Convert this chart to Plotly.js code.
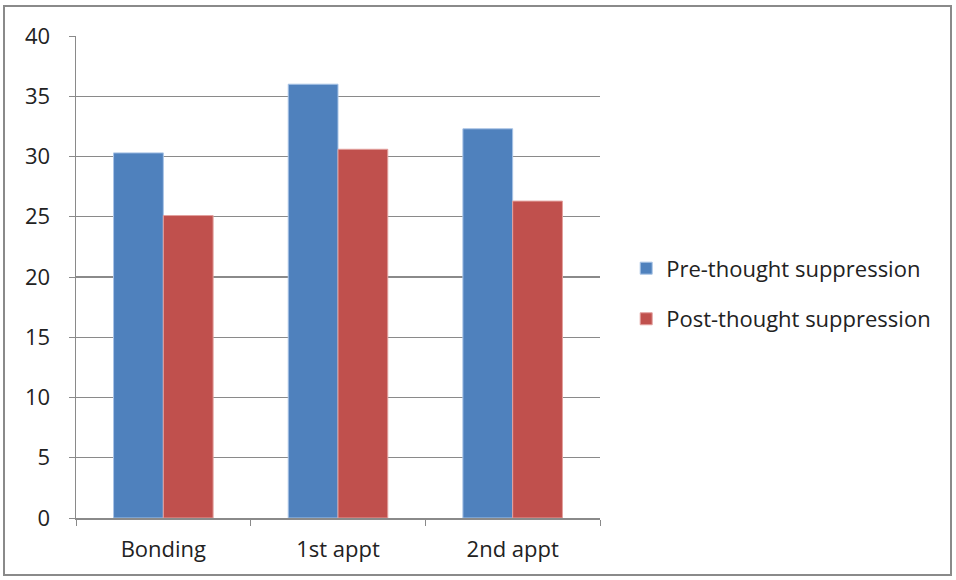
<!DOCTYPE html>
<html>
<head>
<meta charset="utf-8">
<script src="https://cdn.plot.ly/plotly-3.0.1.min.js"></script>
<style>
  html, body { margin: 0; padding: 0; background: #fff; }
  #chart { width: 956px; height: 580px; position: relative; }
  #frame { position: absolute; left: 3px; top: 5px; width: 949px; height: 571px;
           border: 2px solid #8a8a8a; box-sizing: border-box; pointer-events: none; }
</style>
</head>
<body>
<div id="chart"><div id="frame"></div></div>
<script>
// Session categories and mean scores for each phase
const categories = ["Bonding", "1st appt", "2nd appt"];
const preSuppression = [30.3, 36.0, 32.3];
const postSuppression = [25.1, 30.6, 26.3];
const seriesNames = ["Pre-thought suppression", "Post-thought suppression"];
const yTicks = [0, 5, 10, 15, 20, 25, 30, 35, 40];

const font = "Open Sans, Liberation Sans, Arial, sans-serif";

const traces = [
  { type: "bar", x: categories, y: preSuppression, name: seriesNames[0],
    legendgroup: "a",
    marker: { color: "#4f81bd", line: { color: "#a9c4e6", width: 1 } } },
  { type: "bar", x: categories, y: postSuppression, name: seriesNames[1],
    legendgroup: "b",
    marker: { color: "#c0504d", line: { color: "#e3a09e", width: 1 } } }
];

const layout = {
  width: 956, height: 580,
  margin: { l: 76, r: 356, t: 36, b: 62 },
  paper_bgcolor: "rgba(0,0,0,0)", plot_bgcolor: "#fff",
  barmode: "group", bargap: 0.43, bargroupgap: 0,
  font: { family: font, size: 22, color: "#222" },
  showlegend: true,
  legend: { x: 1.05, y: 0.465, xanchor: "left", yanchor: "middle",
            font: { family: font, size: 22, color: "#222" },
            tracegroupgap: 19, itemwidth: 30 },
  xaxis: { type: "category", range: [-0.5, 2.5], tickson: "boundaries",
           ticks: "outside", ticklen: 6, tickcolor: "#8a8a8a",
           showline: true, linecolor: "#8a8a8a", linewidth: 1.5,
           showgrid: false, fixedrange: true, ticklabelstandoff: 11,
           tickfont: { family: font, size: 22, color: "#222" } },
  yaxis: { range: [0, 40], tickvals: yTicks, ticks: "outside", ticklen: 6,
           tickcolor: "#8a8a8a", showline: true, linecolor: "#8a8a8a", linewidth: 1.5,
           showgrid: true, gridcolor: "#8a8a8a", gridwidth: 1.2, zeroline: false,
           fixedrange: true, ticklabelstandoff: 14,
           tickfont: { family: font, size: 22, color: "#222" } }
};

Plotly.newPlot("chart", traces, layout, { displayModeBar: false, staticPlot: true });
</script>
</body>
</html>
